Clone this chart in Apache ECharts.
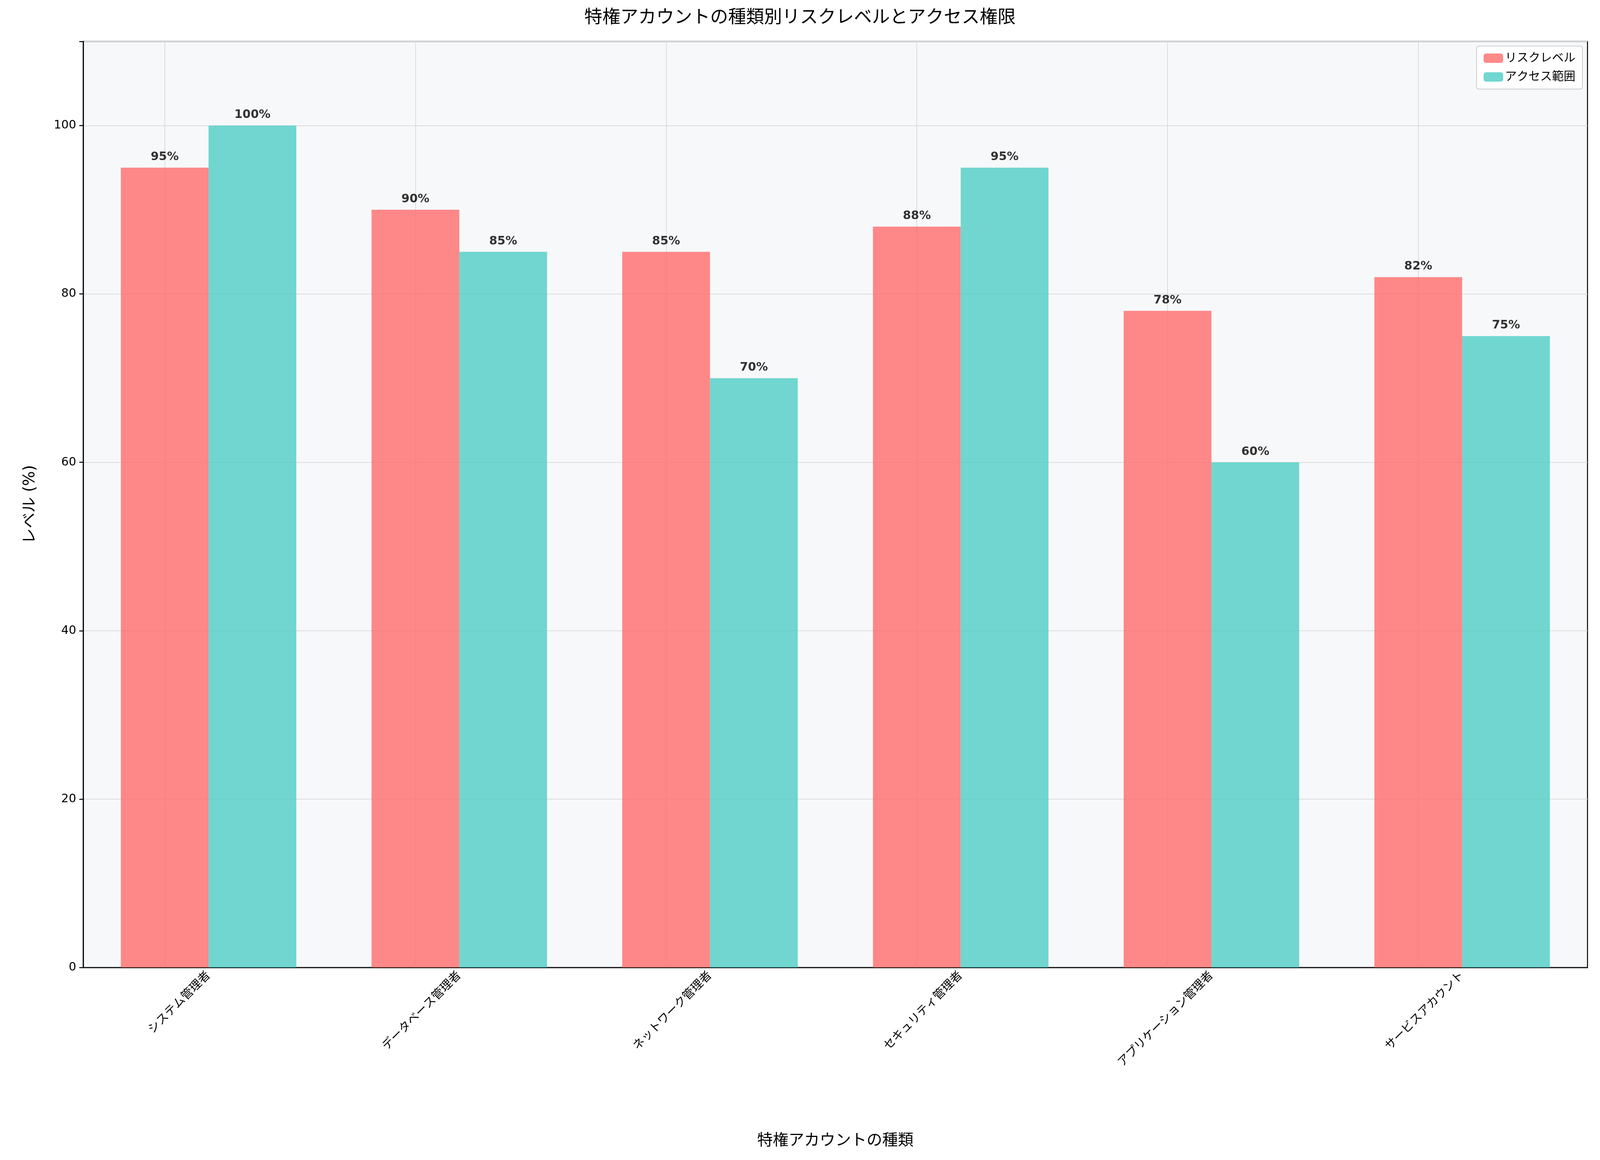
<!DOCTYPE html>
<html>
<head>
<meta charset="utf-8">
<script src="https://cdn.jsdelivr.net/npm/echarts@6/dist/echarts.min.js"></script>
<style>html,body{margin:0;padding:0;background:#fff;overflow:hidden}#main{width:100vw;height:100vh}</style>
</head>
<body>
<div id="main"></div>
<script>
var categories = ['システム管理者', 'データベース管理者', 'ネットワーク管理者', 'セキュリティ管理者', 'アプリケーション管理者', 'サービスアカウント'];
var riskLevel = [95, 90, 85, 88, 78, 82];
var accessRange = [100, 85, 70, 95, 60, 75];
var yTicks = [0, 20, 40, 60, 80, 100];

var font = '"DejaVu Sans", "Noto Sans CJK JP", sans-serif';
var chart = echarts.init(document.getElementById('main'));

// ラベル
var lbl = {
    show: true, position: 'top', distance: 12,
    formatter: '{c}%', fontWeight: 'bold', fontSize: 30, color: '#000', fontFamily: font
};

// 縦のグリッド線（カテゴリ中心）
var vLines = categories.map(function (c) { return {xAxis: c}; });

chart.setOption({
    backgroundColor: '#fff',
    animation: false,
    title: {
        text: '特権アカウントの種類別リスクレベルとアクセス権限',
        left: 'center', top: 18,
        textStyle: {fontSize: 46, fontWeight: 'normal', color: '#000', fontFamily: font}
    },
    legend: {
        right: 45, top: 118, orient: 'vertical', align: 'left',
        itemWidth: 50, itemHeight: 24, itemGap: 18,
        backgroundColor: '#fff', borderColor: '#ccc', borderWidth: 2, borderRadius: 6, padding: [16, 18],
        textStyle: {fontSize: 30, color: '#000', fontFamily: font},
        data: ['リスクレベル', 'アクセス範囲']
    },
    grid: {left: 213, right: 32, top: 106, bottom: 493, backgroundColor: '#f7f8fa', show: true, borderColor: '#000', borderWidth: 2.5},
    xAxis: {
        type: 'category', data: categories,
        name: '特権アカウントの種類', nameLocation: 'middle', nameGap: 425,
        nameTextStyle: {fontSize: 40, color: '#000', fontFamily: font},
        axisLine: {lineStyle: {color: '#000', width: 2.5}},
        axisTick: {alignWithLabel: true, length: 10, lineStyle: {color: '#000', width: 2.5}},
        axisLabel: {rotate: 45, fontSize: 30, color: '#000', margin: 16, fontFamily: font},
        splitLine: {show: false}
    },
    yAxis: {
        type: 'value', min: 0, max: 110, interval: 20,
        name: 'レベル (%)', nameLocation: 'middle', nameGap: 115,
        nameTextStyle: {fontSize: 40, color: '#000', fontFamily: font},
        axisLine: {show: true, lineStyle: {color: '#000', width: 2.5}},
        axisTick: {show: true, length: 10, lineStyle: {color: '#000', width: 2.5}},
        axisLabel: {fontSize: 30, color: '#000', margin: 18, fontFamily: font,
            formatter: function (v) { return yTicks.indexOf(v) >= 0 ? v : ''; }},
        splitLine: {show: true, lineStyle: {color: '#dcdcdc', width: 2}}
    },
    series: [
        {name: 'リスクレベル', type: 'bar', data: riskLevel, barWidth: '35%', barGap: '0%', z: 3,
         itemStyle: {color: '#ff6b6b', opacity: 0.8}, label: lbl,
         markLine: {silent: true, symbol: 'none', label: {show: false}, z: 1,
                    lineStyle: {color: '#dcdcdc', width: 2, type: 'solid'}, data: vLines}},
        {name: 'アクセス範囲', type: 'bar', data: accessRange, barWidth: '35%', z: 3,
         itemStyle: {color: '#4ecdc4', opacity: 0.8}, label: lbl}
    ]
});
</script>
</body>
</html>
